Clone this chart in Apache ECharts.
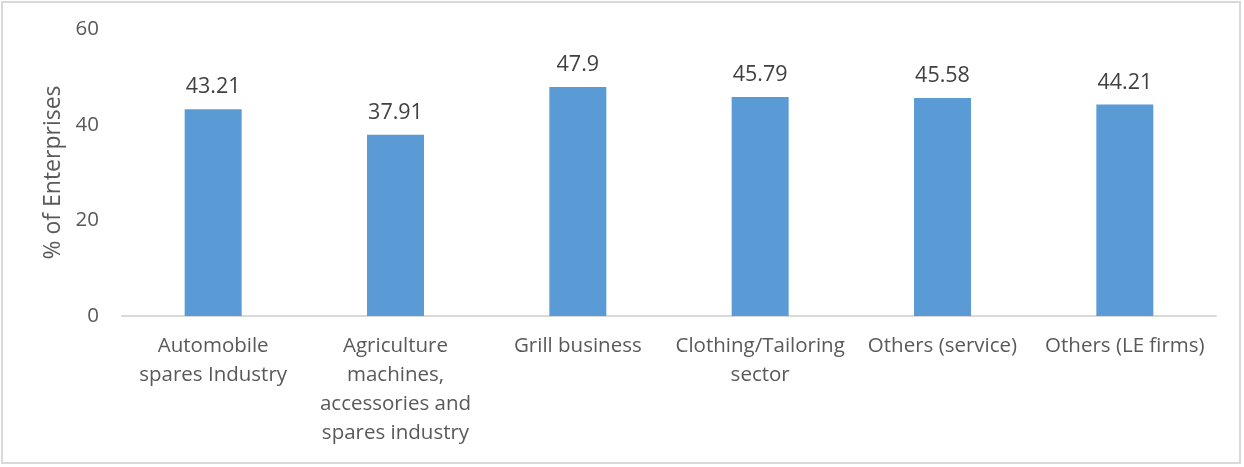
<!DOCTYPE html>
<html>
<head>
<meta charset="utf-8">
<script src="https://cdn.jsdelivr.net/npm/echarts@6/dist/echarts.min.js"></script>
<style>
  html, body { margin: 0; padding: 0; background: #fff; }
  #frame { position: absolute; left: 1px; top: 1px; width: 1240px; height: 463px; border: 2px solid #d9d9d9; box-sizing: border-box; }
  #chart { width: 1244px; height: 467px; }
</style>
</head>
<body>
<div id="chart"></div>
<div id="frame"></div>
<script>
// Share of enterprises by sector
const categories = [
  'Automobile\nspares Industry',
  'Agriculture\nmachines,\naccessories and\nspares industry',
  'Grill business',
  'Clothing/Tailoring\nsector',
  'Others (service)',
  'Others (LE firms)'
];
const values = [43.21, 37.91, 47.9, 45.79, 45.58, 44.21];
const yTicks = { min: 0, max: 60, interval: 20 };
const yTitle = '% of Enterprises';

const fontFamily = '"Open Sans", "Liberation Sans", sans-serif';
const textColor = '#595959';

const chart = echarts.init(document.getElementById('chart'), null, { renderer: 'canvas' });
chart.setOption({
  backgroundColor: '#ffffff',
  animation: false,
  grid: { left: 122, right: 28, top: 29, bottom: 151, containLabel: false },
  xAxis: {
    type: 'category',
    data: categories,
    axisLine: { show: true, lineStyle: { color: '#d9d9d9', width: 2 } },
    axisTick: { show: false },
    axisLabel: {
      color: textColor,
      fontFamily: fontFamily,
      fontSize: 20.5,
      lineHeight: 29,
      margin: 16,
      interval: 0
    }
  },
  yAxis: {
    type: 'value',
    min: yTicks.min,
    max: yTicks.max,
    interval: yTicks.interval,
    name: yTitle,
    nameLocation: 'middle',
    nameGap: 57,
    nameRotate: 90,
    nameTextStyle: { color: textColor, fontFamily: fontFamily, fontSize: 23 },
    axisLine: { show: false },
    axisTick: { show: false },
    splitLine: { show: false },
    axisLabel: {
      color: textColor,
      fontFamily: fontFamily,
      fontSize: 20.5,
      margin: 23
    }
  },
  series: [{
    type: 'bar',
    data: values,
    barWidth: 57,
    itemStyle: { color: '#5b9bd5' },
    label: {
      show: true,
      position: 'top',
      distance: 11,
      color: '#404040',
      fontFamily: fontFamily,
      fontSize: 21.5,
      formatter: p => String(p.value)
    }
  }]
});
</script>
</body>
</html>
